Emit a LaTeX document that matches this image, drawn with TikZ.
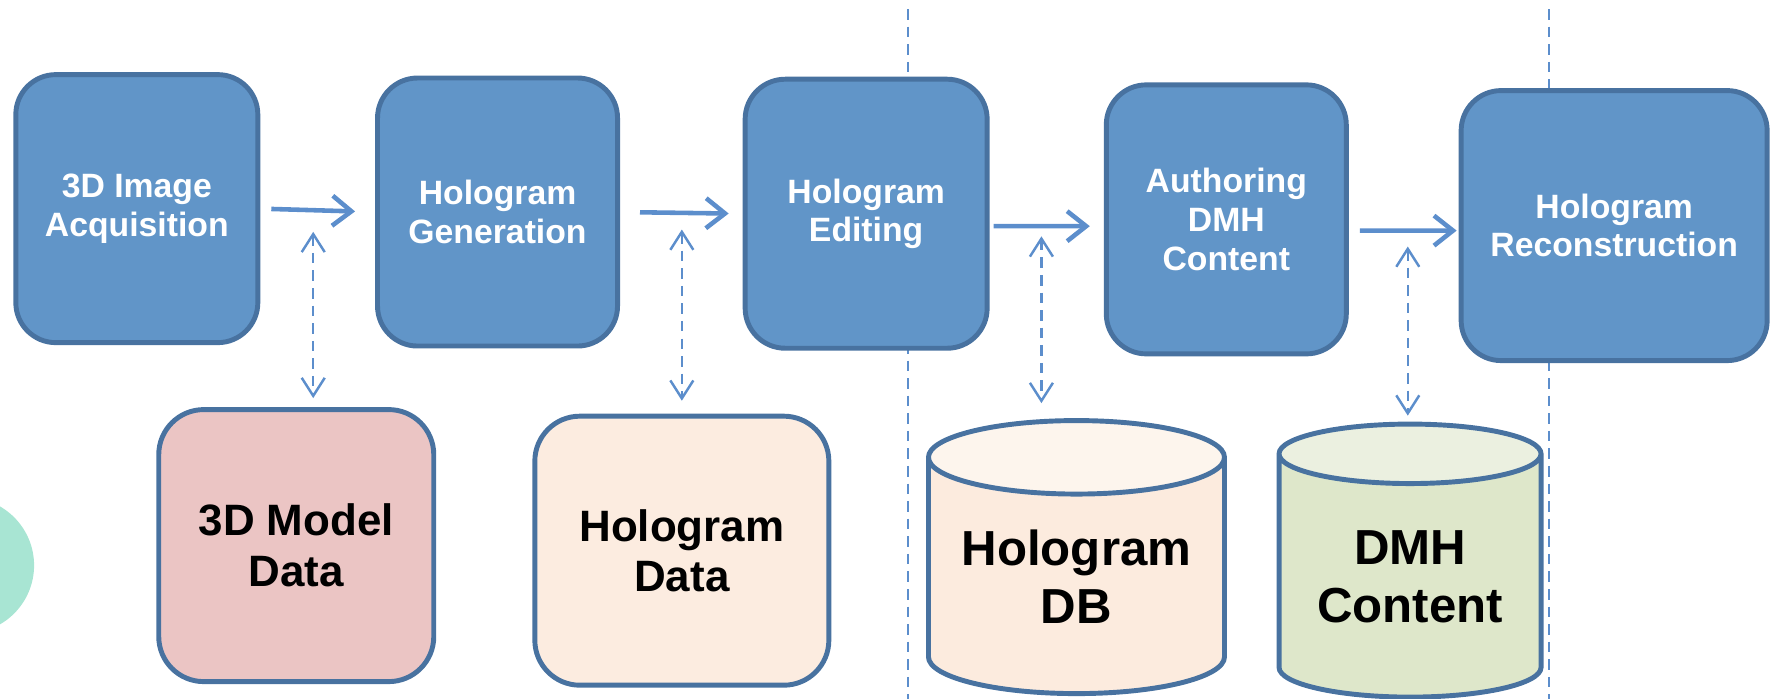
\documentclass[tikz,border=0pt]{standalone}
\usepackage{fontspec}
\setmainfont{Liberation Sans}
\usepackage{xcolor}
\usetikzlibrary{arrows.meta, positioning, shapes.geometric}

\definecolor{stageblue}{RGB}{97,149,200}
\definecolor{edgeblue}{RGB}{72,114,160}
\definecolor{flowblue}{RGB}{92,142,204}
\definecolor{modelpink}{RGB}{235,197,196}
\definecolor{datapeach}{RGB}{252,236,224}
\definecolor{dbpeach}{RGB}{252,235,222}
\definecolor{dbpeachtop}{RGB}{253,245,237}
\definecolor{dmhgreen}{RGB}{222,231,202}
\definecolor{dmhgreentop}{RGB}{235,240,224}
\definecolor{mint}{RGB}{168,229,211}

\begin{document}
\begin{tikzpicture}[
        x=0.011307cm, y=-0.011307cm,
        stage/.style={draw=edgeblue, fill=stageblue, line width=1.4pt, rounded corners=0.4cm,
            inner sep=0pt, text=white, align=center, font=\bfseries\fontsize{9.6}{11}\selectfont},
        store/.style={draw=edgeblue, line width=1.4pt, rounded corners=0.45cm,
            inner sep=0pt, align=center, font=\bfseries\fontsize{12.5}{14.4}\selectfont},
        dbase/.style={cylinder, shape border rotate=90, aspect=0.32, draw=edgeblue, line width=1.4pt,
            cylinder uses custom fill, inner sep=0pt, align=center,
            font=\bfseries\fontsize{14}{16.4}\selectfont},
        flow/.style={draw=flowblue, line width=1.3pt, -{Straight Barb[length=1.9mm, width=3mm]}},
        link/.style={draw=flowblue, line width=0.7pt, dash pattern=on 3pt off 2pt,
            {Straight Barb[length=1.8mm, width=2.3mm]}-{Straight Barb[length=1.8mm, width=2.3mm]}},
        divider/.style={draw=flowblue, line width=0.6pt, dash pattern=on 3pt off 2pt},
    ]
    \useasboundingbox (0,0) rectangle (1568,618);

    % faded mark at the left edge
    \fill[mint] (-30,500) circle[radius=0.68cm];

    % section dividers
    \draw[divider] (803,8) -- (803,618);
    \draw[divider] (1370,8) -- (1370,618);

    % processing stages
    \node[stage, minimum width=2.42cm, minimum height=2.68cm] (acq) at (121,184.5) {3D Image\\Acquisition};
    \node[stage, minimum width=2.40cm, minimum height=2.68cm] (gen) at (440,187.5) {Hologram\\Generation};
    \node[stage, minimum width=2.42cm, minimum height=2.69cm] (edit) at (766,189) {Hologram\\Editing};
    \node[stage, minimum width=2.40cm, minimum height=2.69cm] (auth) at (1084.5,194) {Authoring\\DMH\\Content};
    \node[stage, minimum width=3.06cm, minimum height=2.70cm] (recon) at (1427.5,199.5) {Hologram\\Reconstruction};

    % data stores
    \node[store, fill=modelpink, minimum width=2.75cm, minimum height=2.72cm] (model) at (262,482.5) {3D Model\\Data};
    \node[store, fill=datapeach, minimum width=2.94cm, minimum height=2.69cm] (hdata) at (603,487) {Hologram\\Data};
    \node[dbase, cylinder body fill=dbpeach, cylinder end fill=dbpeachtop,
        minimum width=2.96cm, minimum height=2.73cm] (hdb) at (952,510) {Hologram\\DB};
    \node[dbase, cylinder body fill=dmhgreen, cylinder end fill=dmhgreentop,
        minimum width=2.62cm, minimum height=2.73cm] (dmh) at (1247,510) {DMH\\Content};

    % main flow
    \draw[flow, shorten <=0.11cm, shorten >=0.2cm] (acq.east) -- (gen.west);
    \draw[flow, shorten <=0.2cm, shorten >=0.14cm] (gen.east) -- (edit.west);
    \draw[flow, shorten <=0.04cm, shorten >=0.14cm] ([yshift=-0.124cm]edit.east) -- ([yshift=-0.068cm]auth.west);
    \draw[flow, shorten <=0.11cm, shorten >=0.02cm] ([yshift=-0.113cm]auth.east) -- ([yshift=-0.05cm]recon.west);

    % store access
    \coordinate (d1) at (277,205);
    \coordinate (d2) at (603,203);
    \coordinate (d3) at (921,209);
    \coordinate (d4) at (1245,218);
    \draw[link, shorten >=0.09cm] (d1) -- (d1 |- model.north);
    \draw[link, shorten >=0.13cm] (d2) -- (d2 |- hdata.north);
    \draw[link, shorten >=0.15cm] (d3) -- (d3 |- hdb.north);
    \draw[link, shorten >=0.06cm] (d4) -- (d4 |- dmh.north);
\end{tikzpicture}
\end{document}
